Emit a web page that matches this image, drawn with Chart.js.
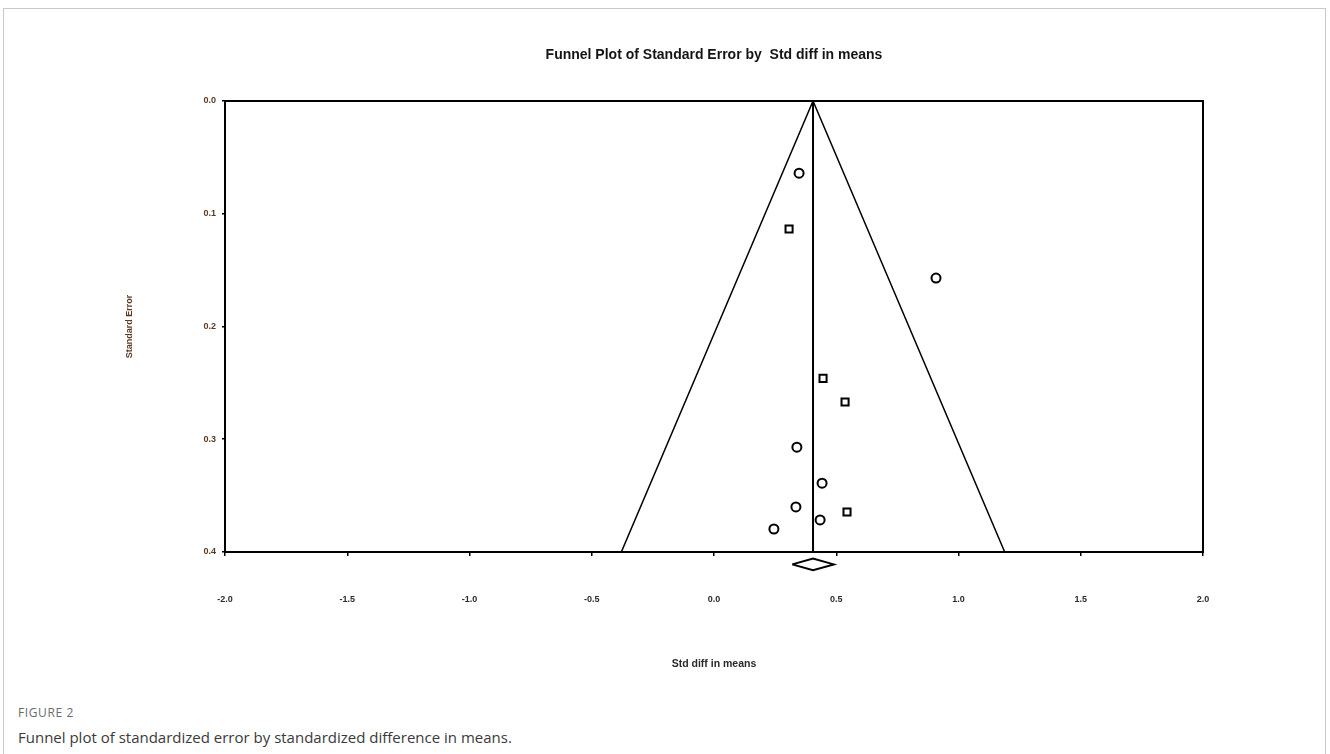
<!DOCTYPE html>
<html>
<head>
<meta charset="utf-8">
<script src="https://cdn.jsdelivr.net/npm/chart.js@4.4.1/dist/chart.umd.min.js"></script>
<style>
  body { margin: 0; background: #fff; width: 1330px; height: 754px; overflow: hidden; position: relative; font-family: "Open Sans", sans-serif; }
  #frame { position: absolute; left: 3px; top: 8px; width: 1323px; height: 746px; border: 1px solid #c9c9c9; border-bottom: none; box-sizing: border-box; }
  #wrap { position: absolute; left: 0; top: 0; width: 1330px; height: 700px; }
  #fig { position: absolute; left: 18px; top: 704px; font-size: 12px; color: #6b6b6b; letter-spacing: 0.6px; }
  #cap { position: absolute; left: 18px; top: 727px; font-size: 15px; color: #3a3a3a; }
</style>
</head>
<body>
<div id="frame"></div>
<div id="wrap"><canvas id="myChart" width="1330" height="700"></canvas></div>
<div id="fig">FIGURE 2</div>
<div id="cap">Funnel plot of standardized error by standardized difference in means.</div>
<script>
// pooled effect and study values
const meanEffect = 0.405;
const funnelBottomSE = 0.4;
const studyEffect = [0.348, 0.307, 0.908, 0.446, 0.536, 0.339, 0.442, 0.335, 0.544, 0.434, 0.245];
const studyError  = [0.064, 0.1135, 0.157, 0.246, 0.267, 0.307, 0.339, 0.360, 0.3645, 0.3716, 0.3796];
const studyMarker = ['circle', 'rect', 'circle', 'rect', 'rect', 'circle', 'circle', 'circle', 'rect', 'circle', 'circle'];
const diamondEffect = [0.32, 0.405, 0.49, 0.405, 0.32];
const diamondY      = [0.411, 0.4058, 0.411, 0.4162, 0.411];
const xTicks = [-2.0, -1.5, -1.0, -0.5, 0.0, 0.5, 1.0, 1.5, 2.0];
const yTicks = [0.0, 0.1, 0.2, 0.3, 0.4];

const circlePts = [];
const rectPts = [];
for (let i = 0; i < studyEffect.length; i++) {
    const p = {x: studyEffect[i], y: studyError[i]};
    if (studyMarker[i] == 'rect') rectPts.push(p);
    else circlePts.push(p);
}
const funnelPts = [
    {x: meanEffect - 1.96 * funnelBottomSE, y: funnelBottomSE},
    {x: meanEffect, y: 0},
    {x: meanEffect + 1.96 * funnelBottomSE, y: funnelBottomSE},
];
const meanPts = [{x: meanEffect, y: 0}, {x: meanEffect, y: funnelBottomSE}];
const diamondPts = diamondEffect.map((x, i) => ({x: x, y: diamondY[i]}));

const boxPlugin = {
    id: 'box',
    afterDatasetsDraw(chart) {
        const {ctx, chartArea: a} = chart;
        ctx.save();
        ctx.strokeStyle = '#000';
        ctx.lineWidth = 2;
        ctx.strokeRect(a.left, a.top, a.right - a.left, a.bottom - a.top);
        ctx.restore();
    }
};

const tickFont = {family: '"Liberation Sans", Arial, sans-serif', size: 9, weight: 'bold'};
const axisFont = {family: '"Liberation Sans", Arial, sans-serif', size: 10.5, weight: 'bold'};

const ctx = document.getElementById('myChart').getContext('2d');
const myChart = new Chart(ctx, {
    type: 'scatter',
    data: {
        datasets: [
            {
                label: 'Funnel',
                data: funnelPts,
                showLine: true,
                borderColor: '#000',
                borderWidth: 1.5,
                pointRadius: 0,
                order: 3
            },
            {
                label: 'Mean',
                data: meanPts,
                showLine: true,
                borderColor: '#000',
                borderWidth: 2,
                pointRadius: 0,
                order: 3
            },
            {
                label: 'Studies (circle)',
                data: circlePts,
                pointStyle: 'circle',
                pointRadius: 4.5,
                backgroundColor: '#fff',
                borderColor: '#000',
                borderWidth: 2,
                order: 1
            },
            {
                label: 'Studies (square)',
                data: rectPts,
                pointStyle: 'rect',
                pointRadius: 5,
                backgroundColor: '#fff',
                borderColor: '#000',
                borderWidth: 2,
                order: 1
            },
            {
                label: 'Summary',
                data: diamondPts,
                showLine: true,
                borderColor: '#000',
                borderWidth: 2,
                fill: false,
                pointRadius: 0,
                clip: false,
                order: 2
            }
        ]
    },
    options: {
        responsive: false,
        animation: false,
        layout: {padding: {left: 0, right: 127, top: 47, bottom: 0}},
        plugins: {
            legend: {display: false},
            tooltip: {enabled: false},
            title: {
                display: true,
                fullSize: false,
                text: 'Funnel Plot of Standard Error by  Std diff in means',
                color: '#151515',
                font: {family: '"Liberation Sans", Arial, sans-serif', size: 14, weight: 'bold'},
                padding: {top: 0, bottom: 37.2}
            }
        },
        scales: {
            x: {
                type: 'linear',
                min: -2,
                max: 2,
                afterBuildTicks: (scale) => { scale.ticks = xTicks.map(v => ({value: v})); },
                afterFit: (scale) => { scale.height = 148; },
                grid: {display: true, drawOnChartArea: false, tickLength: 4, color: '#000', lineWidth: 1.5},
                border: {display: true, color: '#000', width: 2},
                ticks: {
                    font: tickFont,
                    color: '#2a2a35',
                    padding: 38,
                    maxRotation: 0,
                    callback: (v) => v.toFixed(1)
                },
                title: {
                    display: true,
                    text: 'Std diff in means',
                    color: '#2a2a2a',
                    font: axisFont,
                    padding: {top: 0, bottom: 29.7}
                }
            },
            y: {
                type: 'linear',
                reverse: true,
                min: 0,
                max: 0.4,
                afterBuildTicks: (scale) => { scale.ticks = yTicks.map(v => ({value: v})); },
                afterFit: (scale) => { scale.width = 225; },
                grid: {display: true, drawOnChartArea: false, tickLength: 3, color: '#000', lineWidth: 1.5},
                border: {display: true, color: '#000', width: 2},
                ticks: {
                    font: tickFont,
                    color: '#5a3a22',
                    padding: 6,
                    callback: (v) => v.toFixed(1)
                },
                title: {
                    display: true,
                    text: 'Standard Error',
                    color: '#5a3a22',
                    font: tickFont,
                    padding: {top: 124.6, bottom: 0}
                }
            }
        }
    },
    plugins: [boxPlugin]
});
</script>
</body>
</html>
